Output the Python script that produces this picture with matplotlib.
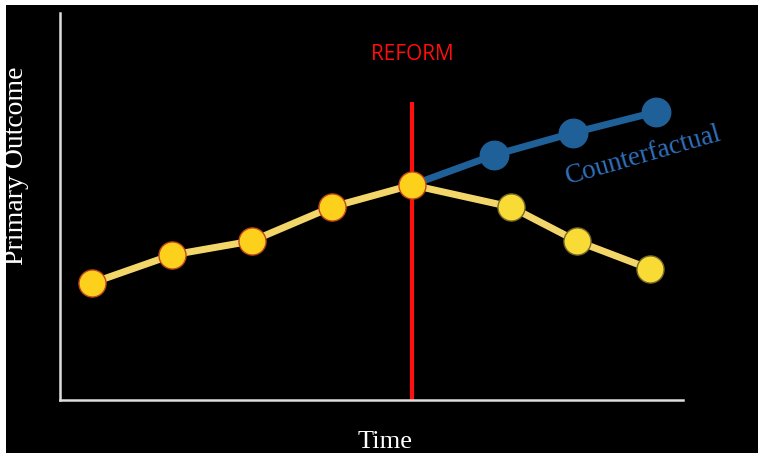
import matplotlib
matplotlib.use("Agg")
import matplotlib.pyplot as plt
from matplotlib.patches import Rectangle

# Data
time_pre = [1, 2, 3, 4, 5]
outcome_pre = [11.7, 14.5, 15.9, 19.3, 21.5]
time_post = [6.24, 7.06, 7.98]
outcome_post = [19.3, 15.9, 13.1]
time_cf = [6.03, 7.01, 8.05]
outcome_cf = [24.5, 26.7, 28.8]
reform_time = 5
reform_top = 29.8

W, H = 758, 453
fig = plt.figure(figsize=(W / 100, H / 100), dpi=100)
fig.patch.set_facecolor("white")
bg = Rectangle((6 / W, 0), 1 - 6 / W, 1 - 5 / H, transform=fig.transFigure,
               facecolor="black", edgecolor="none", zorder=-5)
fig.patches.append(bg)

ax = fig.add_axes([60 / W, (H - 400) / H, (683 - 60) / W, (400 - 13) / H])
ax.set_zorder(2)
ax.set_facecolor("none")
ax.set_xlim(0.6, 8.39)
ax.set_ylim(0, 38.7)
for s in ["top", "right"]:
    ax.spines[s].set_visible(False)
for s in ["left", "bottom"]:
    ax.spines[s].set_color("#dedede")
    ax.spines[s].set_linewidth(1.8)
ax.set_xticks([])
ax.set_yticks([])

# Reform line
ax.plot([reform_time, reform_time], [0, reform_top], color="#ff1010", lw=3, zorder=2,
        solid_capstyle="butt")

# Yellow observed line
ax.plot(time_pre + time_post, outcome_pre + outcome_post, color="#f3d66a", lw=5, zorder=3)

# Counterfactual line
ax.plot([time_pre[-1]] + time_cf, [outcome_pre[-1]] + outcome_cf, color="#1f6098", lw=5, zorder=4)
ax.plot(time_cf, outcome_cf, ls="none", marker="o", ms=20.5, color="#1f6098", zorder=5)

# Markers
ax.plot(time_pre, outcome_pre, ls="none", marker="o", ms=19.5, markerfacecolor="#fdd01c",
        markeredgecolor="#c2461c", markeredgewidth=1, zorder=6)
ax.plot(time_post, outcome_post, ls="none", marker="o", ms=19.5, markerfacecolor="#f8dc35",
        markeredgecolor="#7a6a2a", markeredgewidth=1, zorder=6)

ax.text(reform_time, 34.5, "REFORM", color="#ff0d0d", fontsize=15, family="Open Sans",
        ha="center", va="center")
ax.text(7.89, 24.4, "Counterfactual", color="#2f6fbd", fontsize=19.5, family="Liberation Serif",
        rotation=16, ha="center", va="center", rotation_mode="anchor")

fig.text(385 / W, 1 - 442 / H, "Time", color="white", fontsize=19, family="Liberation Serif",
         ha="center", va="center")
fig.text(17 / W, 1 - 166 / H, "Primary Outcome", color="white", fontsize=20,
         family="Liberation Serif", rotation=90, ha="center", va="center")

fig.savefig("out.png", dpi=100, facecolor=fig.get_facecolor())
